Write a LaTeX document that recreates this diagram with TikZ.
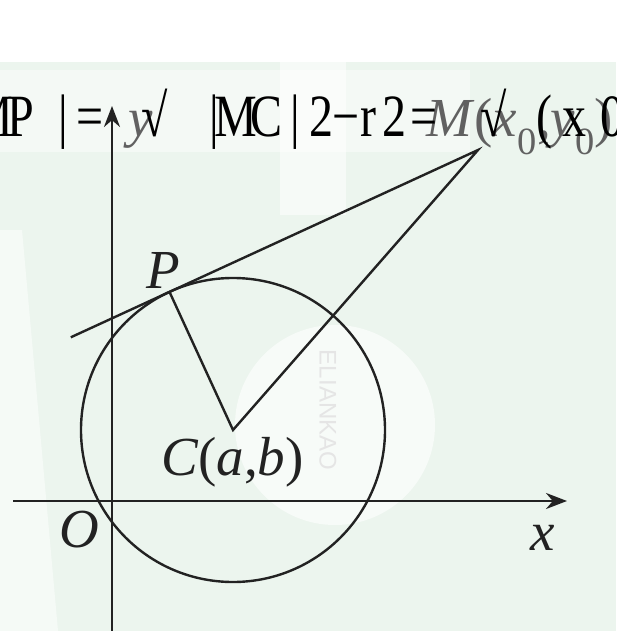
\documentclass[tikz,border=0pt]{standalone}
\usepackage{fontspec}
\setmainfont{Liberation Serif}
\newfontfamily\ovlfont{Liberation Serif}
\newfontfamily\wmfont{Liberation Sans}
\usepackage{graphicx}
\usetikzlibrary{arrows.meta, calc}

\definecolor{ink}{RGB}{34,34,34}
\definecolor{wmgreen}{RGB}{236,245,238}
\newcommand\ovlchar[1]{\scalebox{0.8}[1]{#1}}

\begin{document}
\begin{tikzpicture}[x=1pt, y=-1pt, >=Stealth,
  geo/.style={line width=2.4pt, draw=ink},
  axis/.style={line width=2.8pt, draw=ink, -{Stealth[length=21pt,width=16pt]}},
  lbl/.style={inner sep=0pt, anchor=base west, text=ink, font=\fontsize{55}{60}\selectfont},
  faint/.style={lbl, text=black!62},
  ovl/.style={inner sep=0pt, anchor=base, text=black, font=\ovlfont\fontsize{60}{60}\selectfont}]
  \useasboundingbox (0,0) rectangle (616,631);
  \begin{scope}
  \clip (0,0) rectangle (616,631);

  % watermark
  \fill[wmgreen] (0,0) rectangle (616,631);
  \fill[white] (0,0) rectangle (616,62);
  \fill[white, opacity=.45] (0,70) rectangle (470,152);
  \fill[white, opacity=.5] (0,230) -- (22,230) -- (58,631) -- (0,631) -- cycle;
  \fill[white, opacity=.55] (280,40) rectangle (346,215);
  \fill[white, opacity=.6] (335,425) circle (100);
  \node[rotate=-90, text=black!10, font=\wmfont\fontsize{24}{24}\selectfont] (wm) at (328,410) {ELIANKAO};

  % axes
  \coordinate (O) at (112,501);
  \coordinate (xs) at (13,501);
  \coordinate (xe) at (567,501);
  \coordinate (ys) at (112,631);
  \coordinate (ye) at (112,106);
  \draw[axis] (xs) -- (xe);
  \draw[axis] (ys) -- (ye);

  % circle and tangent
  \coordinate (C) at (233,430);
  \coordinate (M) at (478,150);
  \coordinate (P) at (169.5,291.9);
  \coordinate (T) at ($(M)!1.32!(P)$);
  \draw[geo] (C) circle (152);
  \draw[geo] (T) -- (M) -- (C) -- (P);

  % labels
  \node[lbl] (Plbl) at (146,288) {\textit{P}};
  \node[lbl] (Clbl) at (161,475) {\textit{C}(\textit{a},\textit{b})};
  \node[lbl] (Olbl) at (59,547) {\textit{O}};
  \node[lbl] (xlbl) at (530,550) {\textit{x}};
  \node[faint] (ylbl) at (128,137) {\textit{y}};
  \node[faint] (Mlbl) at (426,137) {\textit{M}(\textit{x}\textsubscript{0},\textit{y}\textsubscript{0})};

  % formula over the top
  \foreach \cx/\ch [count=\i] in {-8/M, 21/P, 63/|, 90/=, 155/√, 214/|, 236/M, 267/C, 295/|, 321/2, 346/−, 368/r, 394/2, 424/=, 494/√, 544/{(}, 574/x, 612/0}
    \node[ovl] (ovl\i) at (\cx,137) {\ovlchar{\ch}};
  \end{scope}
\end{tikzpicture}
\end{document}
